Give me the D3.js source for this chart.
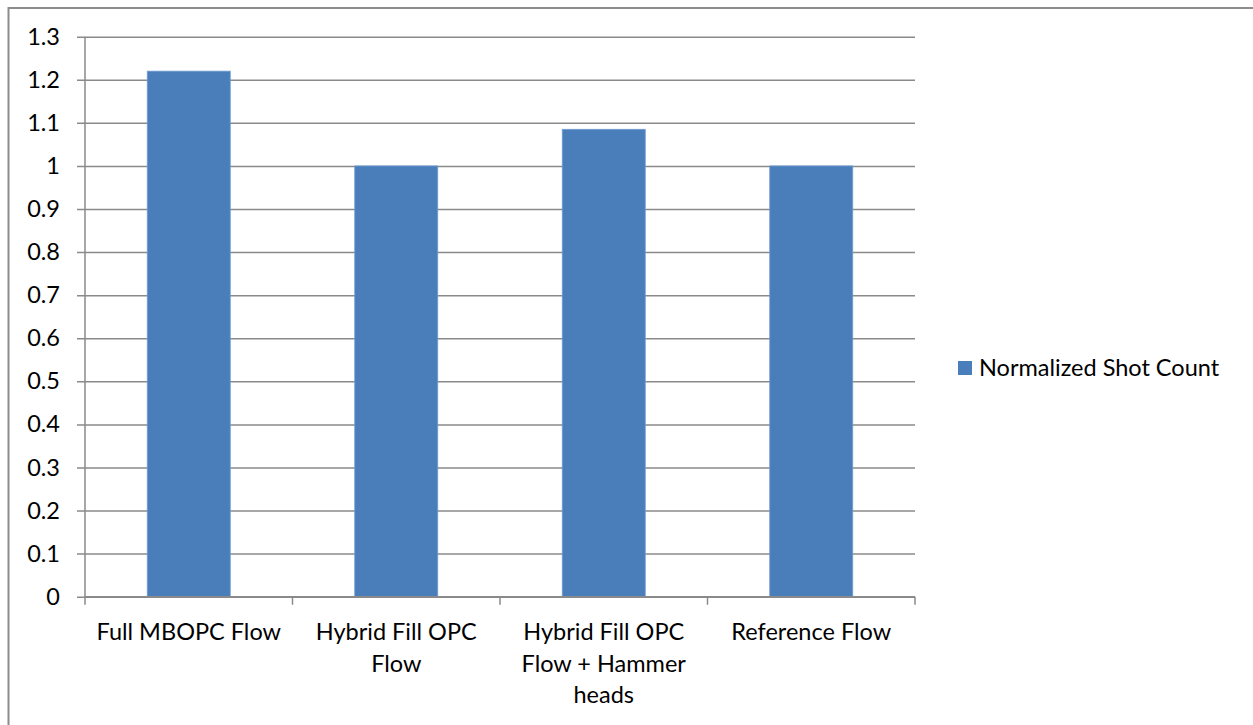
<!DOCTYPE html>
<html>
<head>
<meta charset="utf-8">
<script src="https://cdn.jsdelivr.net/npm/d3@7"></script>
<style>
  body { margin: 0; background: #fff; }
  text { font-family: Lato, "Open Sans", sans-serif; fill: #000; }
</style>
</head>
<body>
<div id="chart"></div>
<script>
// chart data
const categories = ["Full MBOPC Flow", "Hybrid Fill OPC Flow", "Hybrid Fill OPC Flow + Hammer heads", "Reference Flow"];
const labelLines = [["Full MBOPC Flow"], ["Hybrid Fill OPC", "Flow"], ["Hybrid Fill OPC", "Flow + Hammer", "heads"], ["Reference Flow"]];
const shotCount = [1.22, 1.0, 1.085, 1.0];
const yTicks = [0, 0.1, 0.2, 0.3, 0.4, 0.5, 0.6, 0.7, 0.8, 0.9, 1, 1.1, 1.2, 1.3];
const seriesName = "Normalized Shot Count";

const WIDTH = 1253
const HEIGHT = 725
const PLOT_LEFT = 85
const PLOT_RIGHT = 915
const PLOT_TOP = 36.7
const PLOT_BOTTOM = 596.7
const BAR_COLOR = "#4a7ebb"
const GRID_COLOR = "#8a8a8a"
const FONT_SIZE = 23.5

let svg = d3.select("#chart").append("svg")
    .attr("width", WIDTH)
    .attr("height", HEIGHT);

// outer frame
svg.append("rect")
    .attr("x", 8.5)
    .attr("y", 8)
    .attr("width", WIDTH + 20)
    .attr("height", HEIGHT + 20)
    .attr("fill", "none")
    .attr("stroke", "#8c8c8c")
    .attr("stroke-width", 2);

let scaleX = d3.scaleBand()
    .domain(categories)
    .range([PLOT_LEFT, PLOT_RIGHT])
    .paddingInner(0.6)
    .paddingOuter(0.3);

let scaleY = d3.scaleLinear()
    .domain([0, 1.3])
    .range([PLOT_BOTTOM, PLOT_TOP]);

// gridlines + y ticks
let yAxis = svg.append("g")
    .attr("transform", `translate(${PLOT_LEFT},0)`)
    .call(d3.axisLeft(scaleY)
        .tickValues(yTicks)
        .tickSize(-(PLOT_RIGHT - PLOT_LEFT))
        .tickSizeOuter(0)
        .tickPadding(25)
        .tickFormat(d => d3.format("~g")(d)));
yAxis.select(".domain").remove();
yAxis.selectAll(".tick line")
    .attr("x1", -8)
    .attr("stroke", GRID_COLOR)
    .attr("stroke-width", 1.5);
yAxis.selectAll(".tick text")
    .style("font-family", "Lato, 'Open Sans', sans-serif")
    .style("font-size", FONT_SIZE + "px")
    .attr("fill", "#000");

// bars
svg.append("g")
    .selectAll("rect")
    .data(shotCount)
    .join("rect")
    .attr("x", (d, i) => scaleX(categories[i]))
    .attr("y", d => scaleY(d))
    .attr("width", scaleX.bandwidth())
    .attr("height", d => PLOT_BOTTOM - scaleY(d))
    .attr("fill", BAR_COLOR)
    .attr("stroke", "#6f9bd0")
    .attr("stroke-width", 0.8);

// y axis line
svg.append("line")
    .attr("x1", PLOT_LEFT).attr("x2", PLOT_LEFT)
    .attr("y1", PLOT_TOP).attr("y2", PLOT_BOTTOM)
    .attr("stroke", GRID_COLOR)
    .attr("stroke-width", 1.5);

// x axis line + category ticks
let step = (PLOT_RIGHT - PLOT_LEFT) / categories.length;
let xAxis = svg.append("g");
xAxis.append("line")
    .attr("x1", PLOT_LEFT).attr("x2", PLOT_RIGHT)
    .attr("y1", PLOT_BOTTOM).attr("y2", PLOT_BOTTOM)
    .attr("stroke", GRID_COLOR)
    .attr("stroke-width", 1.5);
xAxis.selectAll(".xtick")
    .data(d3.range(categories.length + 1))
    .join("line")
    .attr("class", "xtick")
    .attr("x1", i => PLOT_LEFT + i * step)
    .attr("x2", i => PLOT_LEFT + i * step)
    .attr("y1", PLOT_BOTTOM)
    .attr("y2", PLOT_BOTTOM + 8)
    .attr("stroke", GRID_COLOR)
    .attr("stroke-width", 1.5);

xAxis.selectAll(".xlabel")
    .data(categories)
    .join("text")
    .attr("class", "xlabel")
    .attr("text-anchor", "middle")
    .style("font-size", FONT_SIZE + "px")
    .each(function (d, i) {
        let cx = scaleX(d) + scaleX.bandwidth() / 2;
        d3.select(this).selectAll("tspan")
            .data(labelLines[i])
            .join("tspan")
            .attr("x", cx)
            .attr("y", (t, j) => 640 + j * 31.5)
            .text(t => t);
    });

// legend
let legend = svg.append("g");
legend.append("rect")
    .attr("x", 958)
    .attr("y", 361)
    .attr("width", 14)
    .attr("height", 14)
    .attr("fill", BAR_COLOR);
legend.append("text")
    .attr("x", 979)
    .attr("y", 376)
    .style("font-size", FONT_SIZE + "px")
    .text(seriesName);
</script>
</body>
</html>
